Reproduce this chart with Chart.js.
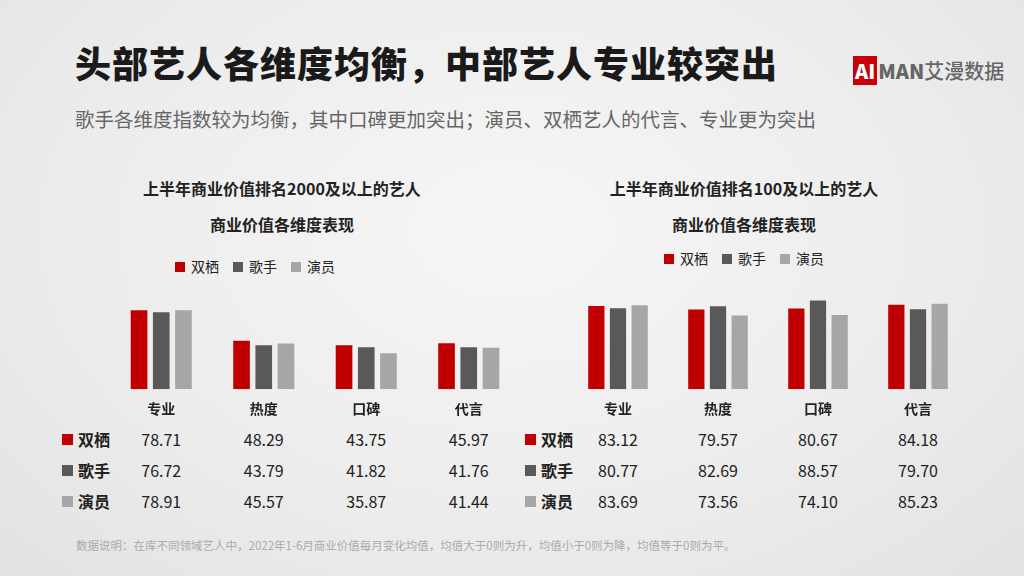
<!DOCTYPE html>
<html><head><meta charset="utf-8">
<script src="https://cdn.jsdelivr.net/npm/chart.js@4"></script>
<style>
body{margin:0;width:1024px;height:576px;overflow:hidden;font-family:"Noto Sans CJK SC",sans-serif;
background:radial-gradient(ellipse at 50% 40%,#f6f6f6 0%,#ececec 60%,#e2e2e2 100%);position:relative;color:#222}
.abs{position:absolute}
h1{position:absolute;left:75px;top:36px;margin:0;font-size:36px;font-weight:900;color:#1a1a1a;letter-spacing:1px}
.sub{left:75px;top:104px;font-size:19.5px;color:#666}
.ct{font-size:16px;font-weight:bold;text-align:center;width:440px;line-height:36px}
.leg{font-size:14px;display:flex;gap:14px;justify-content:center;width:440px}
.leg span:before{content:"";display:inline-block;width:10px;height:10px;margin-right:6px;background:var(--c)}
.row{font-size:16px;display:flex;align-items:center}
.row b{font-weight:bold;display:flex;align-items:center;width:50px}
.row b:before{content:"";display:inline-block;width:11px;height:11px;margin-right:5px;background:var(--c)}
.row i{font-style:normal;position:absolute;transform:translateX(-50%)}
.note{left:76px;top:537px;font-size:11.5px;color:#aaa}
.logo{left:853px;top:56px;font-size:20px;font-weight:900;color:#666}
.logo em{font-style:normal;background:#c8000a;color:#fff;padding:0 2px;margin-right:1px}
</style></head><body>
<h1>头部艺人各维度均衡，中部艺人专业较突出</h1>
<div class="abs logo"><em>AI</em>MAN<span style="font-weight:500">艾漫数据</span></div>
<div class="abs sub">歌手各维度指数较为均衡，其中口碑更加突出；演员、双栖艺人的代言、专业更为突出</div>
<div class="abs ct" style="left:62px;top:170px">上半年商业价值排名2000及以上的艺人<br>商业价值各维度表现</div>
<div class="abs ct" style="left:524px;top:170px">上半年商业价值排名100及以上的艺人<br>商业价值各维度表现</div>
<div class="abs leg" style="left:35px;top:256px" id="leg1"></div>
<div class="abs leg" style="left:524px;top:248px" id="leg2"></div>
<div class="abs" style="left:110px;top:284px;width:410px;height:136px"><canvas id="c1"></canvas></div>
<div class="abs" style="left:568px;top:284px;width:400px;height:136px"><canvas id="c2"></canvas></div>
<div id="t1"></div><div id="t2"></div>
<div class="abs note">数据说明：在库不同领域艺人中，2022年1-6月商业价值每月变化均值，均值大于0则为升，均值小于0则为降，均值等于0则为平。</div>
<script>
const categories=['专业','热度','口碑','代言'];
const seriesNames=['双栖','歌手','演员'];
const colors=['#c00000','#595959','#a6a6a6'];
const top2000=[[78.71,48.29,43.75,45.97],[76.72,43.79,41.82,41.76],[78.91,45.57,35.87,41.44]];
const top100=[[83.12,79.57,80.67,84.18],[80.77,82.69,88.57,79.70],[83.69,73.56,74.10,85.23]];

function legend(id){
  document.getElementById(id).innerHTML=seriesNames.map((n,i)=>`<span style="--c:${colors[i]}">${n}</span>`).join('');
}
legend('leg1');legend('leg2');

function makeChart(id,data){
  return new Chart(document.getElementById(id),{
    type:'bar',
    data:{labels:categories,datasets:data.map((d,i)=>({label:seriesNames[i],data:d,backgroundColor:colors[i],barPercentage:0.75,categoryPercentage:0.65}))},
    options:{responsive:true,maintainAspectRatio:false,animation:false,
      plugins:{legend:{display:false},tooltip:{enabled:false}},
      scales:{x:{grid:{display:false},border:{display:false},ticks:{color:'#222',font:{size:14,weight:'bold',family:'Noto Sans CJK SC'}}},
        y:{display:false,min:0,max:105}}}
  });
}
const ch1=makeChart('c1',top2000);
const ch2=makeChart('c2',top100);

function table(id,chart,box,data,labelX){
  const el=document.getElementById(id);
  const xs=categories.map((c,i)=>box+chart.scales.x.getPixelForValue(i));
  el.innerHTML=data.map((d,r)=>`<div class="abs row" style="left:${labelX}px;top:${428+r*31}px;width:460px;height:22px"><b style="--c:${colors[r]}">${seriesNames[r]}</b>`+
    d.map((v,j)=>`<i style="left:${xs[j]-labelX}px">${v.toFixed(2)}</i>`).join('')+'</div>').join('');
}
table('t1',ch1,110,top2000,62);
table('t2',ch2,568,top100,525);
</script>
</body></html>
